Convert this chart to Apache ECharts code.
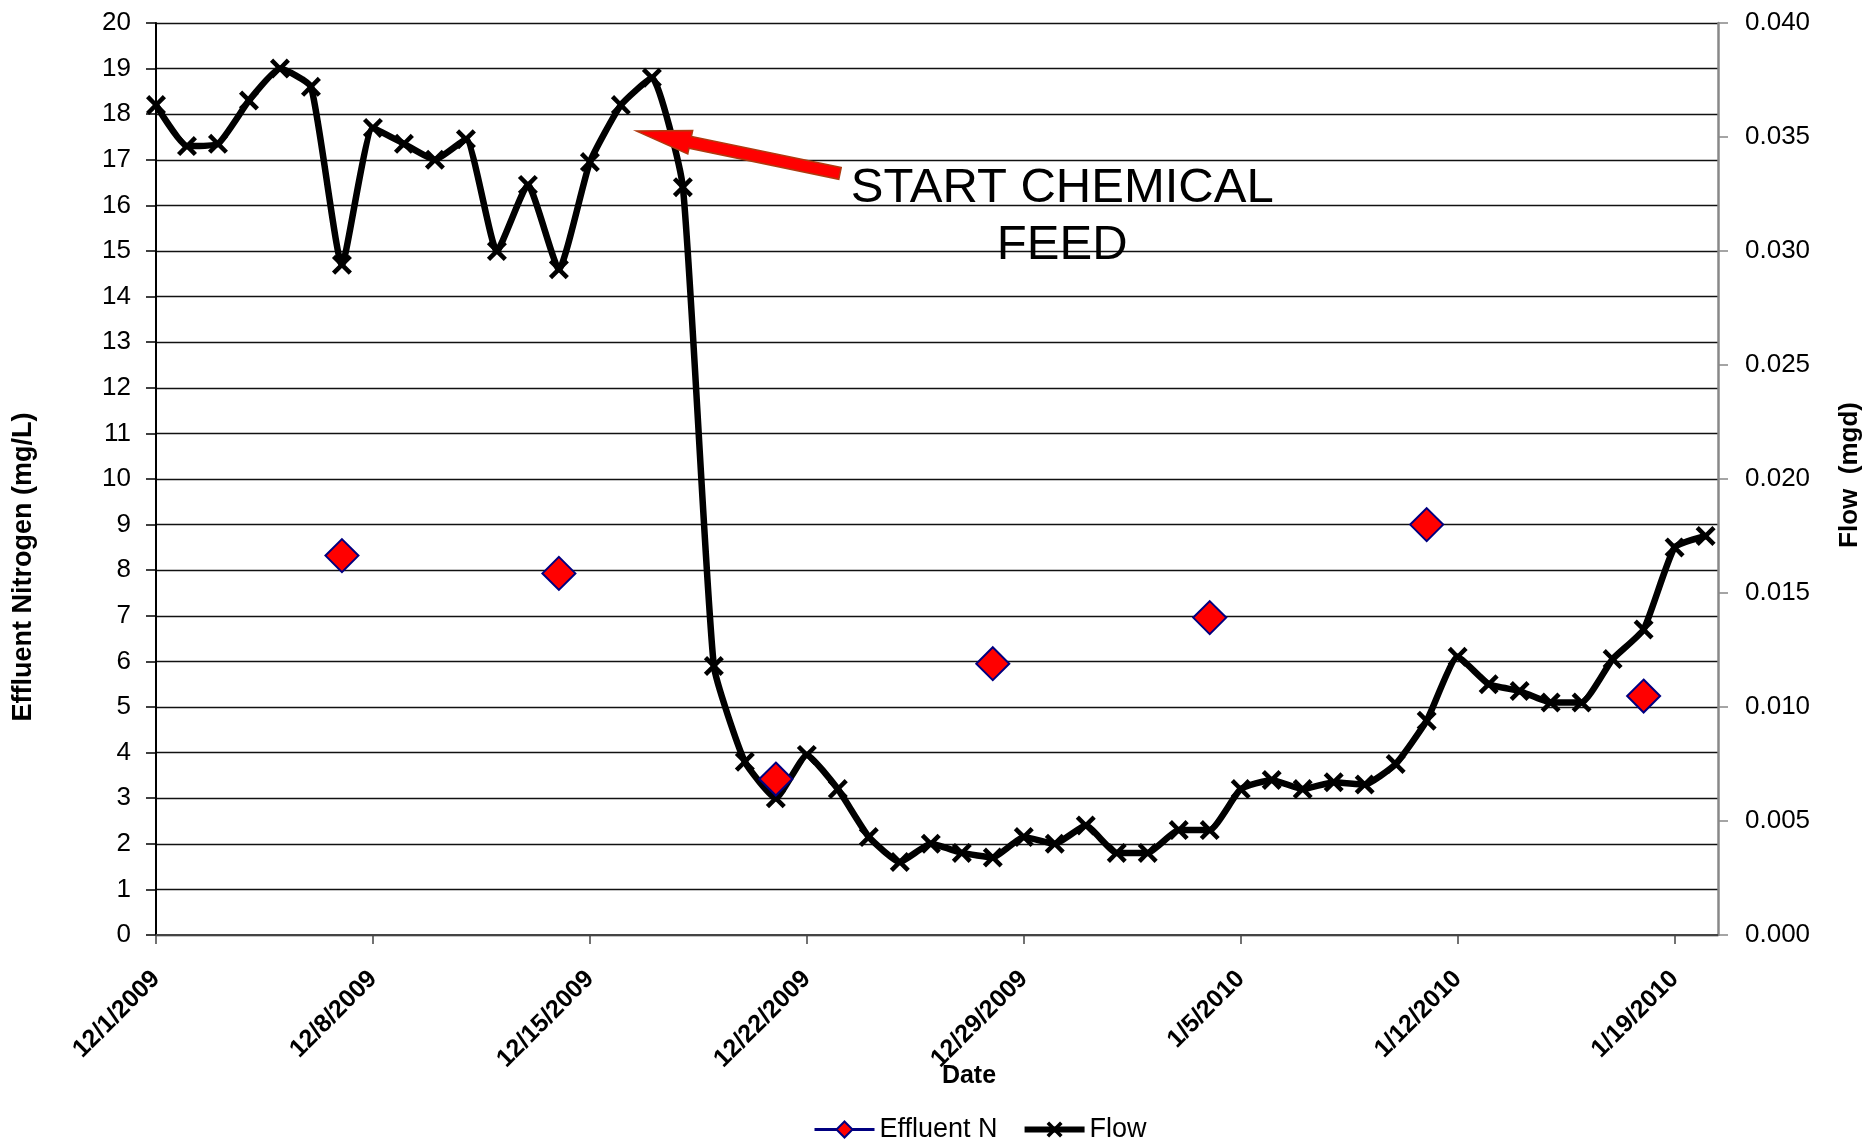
<!DOCTYPE html>
<html><head><meta charset="utf-8">
<script src="https://cdn.jsdelivr.net/npm/echarts@6/dist/echarts.min.js"></script>
<style>html,body{margin:0;padding:0;background:#fff}#c{width:1864px;height:1146px}</style>
</head><body><div id="c"></div>
<script>
// ---- data ----
const flowDates = ['12/1/2009','12/2/2009','12/3/2009','12/4/2009','12/5/2009','12/6/2009','12/7/2009','12/8/2009','12/9/2009','12/10/2009',
  '12/11/2009','12/12/2009','12/13/2009','12/14/2009','12/15/2009','12/16/2009','12/17/2009','12/18/2009','12/19/2009','12/20/2009',
  '12/21/2009','12/22/2009','12/23/2009','12/24/2009','12/25/2009','12/26/2009','12/27/2009','12/28/2009','12/29/2009','12/30/2009',
  '12/31/2009','1/1/2010','1/2/2010','1/3/2010','1/4/2010','1/5/2010','1/6/2010','1/7/2010','1/8/2010','1/9/2010',
  '1/10/2010','1/11/2010','1/12/2010','1/13/2010','1/14/2010','1/15/2010','1/16/2010','1/17/2010','1/18/2010','1/19/2010','1/20/2010'];
const flowValues = [0.0364,0.0346,0.0347,0.0366,0.0380,0.0372,0.0294,0.0354,0.0347,0.0340,
  0.0349,0.0300,0.0329,0.0292,0.0339,0.0364,0.0376,0.0328,0.0118,0.0076,
  0.0060,0.0079,0.0064,0.0043,0.0032,0.0040,0.0036,0.0034,0.0043,0.0040,
  0.0048,0.0036,0.0036,0.0046,0.0046,0.0064,0.0068,0.0064,0.0067,0.0066,
  0.0075,0.0094,0.0122,0.0110,0.0107,0.0102,0.0102,0.0121,0.0134,0.0170,0.0175];
const effluentDates = ['12/7/2009','12/14/2009','12/21/2009','12/28/2009','1/4/2010','1/11/2010','1/18/2010'];
const effluentValues = [8.32,7.93,3.42,5.95,6.96,9.0,5.24];
const tickDates = ['12/1/2009','12/8/2009','12/15/2009','12/22/2009','12/29/2009','1/5/2010','1/12/2010','1/19/2010'];
const axisStartDate = '12/1/2009';
const axisEndDays = 50.4;
const leftTicks = {min:0, max:20, interval:1};
const rightTicks = {min:0, max:0.04, interval:0.005};
// annotation anchors: [days from 12/1/2009, Effluent N axis value]
const arrowTip = [15.5, 17.63];
const arrowTail = [22.07, 16.70];
const noteAnchor = [29.24, 16.37];
const noteLines = ['START CHEMICAL', 'FEED'];

// ---- helpers ----
function ymd(s){const [m,d,y]=s.split('/').map(Number);return Date.UTC(y,m-1,d);}
const t0 = ymd(axisStartDate);
function dayIndex(s){return (ymd(s)-t0)/864e5;}
const tickDays = tickDates.map(dayIndex);
const FONT = '"Liberation Sans", Arial, sans-serif';
const xPath = 'path://M0,1.6 L1.6,0 L5,3.4 L8.4,0 L10,1.6 L6.6,5 L10,8.4 L8.4,10 L5,6.6 L1.6,10 L0,8.4 L3.4,5 Z';

const chart = echarts.init(document.getElementById('c'), null, {renderer:'canvas'});
const option = {
  animation:false,
  backgroundColor:'#fff',
  grid:{left:156, right:146, top:23, bottom:211, containLabel:false},
  legend:{
    left:808, top:1111, itemWidth:60, itemHeight:20, itemGap:24,
    textStyle:{fontFamily:FONT, fontSize:27, color:'#000'},
    data:[{name:'Effluent N', lineStyle:{width:3, color:'#000080', opacity:1}},
          {name:'Flow', lineStyle:{width:6, color:'#000', opacity:1}}]
  },
  xAxis:{
    type:'value', min:0, max:axisEndDays,
    axisLine:{show:true, onZero:false, lineStyle:{color:'#444', width:2}},
    axisTick:{show:true, length:9, customValues:tickDays, lineStyle:{color:'#444', width:1.5}},
    splitLine:{show:false},
    axisLabel:{customValues:tickDays, rotate:45, margin:40, fontFamily:FONT, fontSize:25, fontWeight:'bold', color:'#000',
      formatter:function(v){const i=tickDays.indexOf(v);return i>=0?tickDates[i]:'';}}
  },
  yAxis:[
    {type:'value', min:leftTicks.min, max:leftTicks.max, interval:leftTicks.interval, position:'left',
     axisLine:{show:true, lineStyle:{color:'#000', width:2}},
     axisTick:{show:true, length:10, lineStyle:{color:'#000', width:1.5}},
     splitLine:{show:true, lineStyle:{color:'#111', width:1.3}},
     axisLabel:{margin:25, fontFamily:FONT, fontSize:26, color:'#000'}},
    {type:'value', min:rightTicks.min, max:rightTicks.max, interval:rightTicks.interval, position:'right',
     axisLine:{show:true, lineStyle:{color:'#888', width:2.5}},
     axisTick:{show:true, length:10, lineStyle:{color:'#888', width:1.5}},
     splitLine:{show:false},
     axisLabel:{margin:27, fontFamily:FONT, fontSize:26, color:'#000', formatter:v=>v.toFixed(3)}}
  ],
  series:[
    {name:'Effluent N', type:'line', yAxisIndex:0, z:4,
     data:effluentDates.map((d,i)=>[dayIndex(d), effluentValues[i]]),
     symbol:'diamond', symbolSize:33, showAllSymbol:true,
     lineStyle:{width:0, color:'#000080'},
     itemStyle:{color:'#FF0000', borderColor:'#000080', borderWidth:2}},
    {name:'Flow', type:'line', yAxisIndex:1, z:3,
     data:flowDates.map((d,i)=>[dayIndex(d), flowValues[i]]),
     symbol:xPath, symbolSize:20, showAllSymbol:true, smooth:0.15,
     lineStyle:{width:6.5, color:'#000'},
     itemStyle:{color:'#000', borderWidth:0}}
  ]
};
chart.setOption(option);

// ---- annotation & titles ----
const P = (v)=>chart.convertToPixel({xAxisIndex:0, yAxisIndex:0}, v);
const T = P(arrowTip), C = P(arrowTail);
const dx=T[0]-C[0], dy=T[1]-C[1], L=Math.hypot(dx,dy);
const ux=dx/L, uy=dy/L, nx=-uy, ny=ux;
const headLen=55, headHalf=12, shaftHalf=6;
const Bx=T[0]-ux*headLen, By=T[1]-uy*headLen;
const arrowPts=[
  [C[0]+nx*shaftHalf, C[1]+ny*shaftHalf],
  [Bx+nx*shaftHalf, By+ny*shaftHalf],
  [Bx+nx*headHalf, By+ny*headHalf],
  [T[0], T[1]],
  [Bx-nx*headHalf, By-ny*headHalf],
  [Bx-nx*shaftHalf, By-ny*shaftHalf],
  [C[0]-nx*shaftHalf, C[1]-ny*shaftHalf]
];
const N = P(noteAnchor);
chart.setOption({graphic:[
  {type:'polygon', z:50, shape:{points:arrowPts}, style:{fill:'#FF0000', stroke:'#B03A10', lineWidth:1.5}},
  {type:'text', z:50, x:N[0], y:N[1], style:{text:noteLines[0], font:'49px '+FONT, fill:'#000', align:'center', verticalAlign:'middle'}},
  {type:'text', z:50, x:N[0], y:N[1]+57, style:{text:noteLines[1], font:'49px '+FONT, fill:'#000', align:'center', verticalAlign:'middle'}},
  {type:'text', x:24, y:567, rotation:Math.PI/2, style:{text:'Effluent Nitrogen (mg/L)', font:'bold 27px '+FONT, fill:'#000', align:'center', verticalAlign:'middle'}},
  {type:'text', x:1850, y:475, rotation:Math.PI/2, style:{text:'Flow  (mgd)', font:'bold 26px '+FONT, fill:'#000', align:'center', verticalAlign:'middle'}},
  {type:'text', x:969, y:1076, style:{text:'Date', font:'bold 25px '+FONT, fill:'#000', align:'center', verticalAlign:'middle'}}
]});
</script></body></html>
